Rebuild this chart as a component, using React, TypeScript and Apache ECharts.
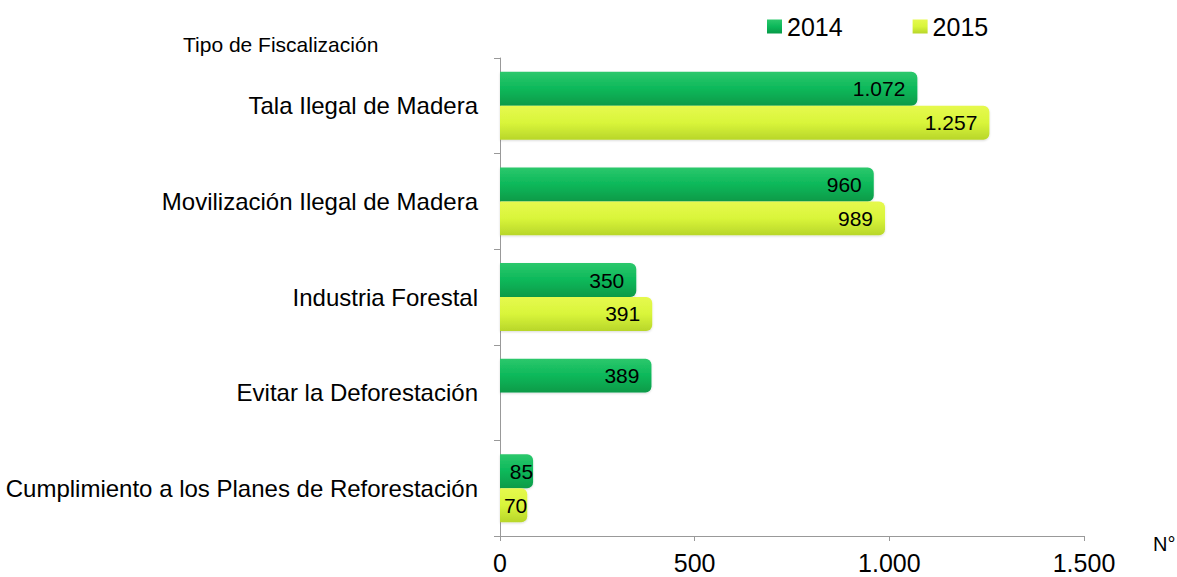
import React, { useEffect, useRef } from "react";
import * as echarts from "echarts";

const categories = [
  "Tala Ilegal de Madera",
  "Movilización Ilegal de Madera",
  "Industria Forestal",
  "Evitar la Deforestación",
  "Cumplimiento a los Planes de Reforestación",
];
const values2014 = [1072, 960, 350, 389, 85];
const values2015: (number | null)[] = [1257, 989, 391, null, 70];
const seriesNames = ["2014", "2015"];

const FONT = "Liberation Sans, Arial, sans-serif";

const fmt = (v: number) => {
  const s = String(Math.round(v));
  return s.replace(/\B(?=(\d{3})+(?!\d))/g, ".");
};

const withLabelPad = (arr: (number | null)[]) =>
  arr.map((v) =>
    v == null ? null : { value: v, label: { distance: v < 200 ? 0 : 12 } }
  );

export default function App() {
  const ref = useRef<HTMLDivElement>(null);
  useEffect(() => {
    const chart = echarts.init(ref.current!, null, { renderer: "svg" });
    const green = new echarts.graphic.LinearGradient(0, 0, 0, 1, [
      { offset: 0, color: "#2cc86c" },
      { offset: 0.5, color: "#0cb85a" },
      { offset: 1, color: "#079a48" },
    ]);
    const yellow = new echarts.graphic.LinearGradient(0, 0, 0, 1, [
      { offset: 0, color: "#e6f94e" },
      { offset: 0.5, color: "#d9f53a" },
      { offset: 1, color: "#b8d62a" },
    ]);
    const labelCfg = {
      show: true,
      position: "insideRight",
      fontSize: 21,
      color: "#000",
      distance: 12,
      fontFamily: FONT,
      formatter: (p: any) => fmt(p.value),
    };
    chart.setOption({
      animation: false,
      textStyle: { fontFamily: FONT },
      legend: {
        data: seriesNames,
        top: 9,
        left: 762,
        itemWidth: 15,
        itemHeight: 14,
        itemGap: 70,
        icon: "rect",
        textStyle: { fontSize: 25, color: "#000", fontFamily: FONT },
      },
      grid: { left: 500, top: 58, right: 93, bottom: 41, containLabel: false },
      xAxis: {
        type: "value",
        min: 0,
        max: 1500,
        interval: 500,
        axisLine: { show: true, lineStyle: { color: "#999" } },
        axisTick: { show: true, length: 5, lineStyle: { color: "#999" } },
        splitLine: { show: false },
        axisLabel: {
          fontSize: 25,
          color: "#000",
          margin: 14,
          fontFamily: FONT,
          formatter: (v: number) => fmt(v),
        },
      },
      yAxis: {
        type: "category",
        data: categories,
        inverse: true,
        axisLine: { show: true, lineStyle: { color: "#999" } },
        axisTick: { show: true, length: 6, lineStyle: { color: "#999" } },
        axisLabel: { fontSize: 24, color: "#000", margin: 22, fontFamily: FONT },
      },
      graphic: [
        {
          type: "text",
          left: 183,
          top: 34,
          style: { text: "Tipo de Fiscalización", fontSize: 21, fill: "#000", fontFamily: FONT },
        },
        {
          type: "text",
          left: 1153,
          top: 534,
          style: { text: "N°", fontSize: 20, fill: "#000", fontFamily: FONT },
        },
      ],
      series: [
        {
          name: seriesNames[0],
          type: "bar",
          data: withLabelPad(values2014),
          barCategoryGap: "29%",
          barGap: "0%",
          itemStyle: { color: green, borderRadius: [0, 6, 6, 0], shadowColor: "rgba(0,0,0,0.15)", shadowBlur: 2, shadowOffsetY: 1 },
          label: labelCfg,
        },
        {
          name: seriesNames[1],
          type: "bar",
          data: withLabelPad(values2015),
          barCategoryGap: "29%",
          barGap: "0%",
          itemStyle: { color: yellow, borderRadius: [0, 6, 6, 0], shadowColor: "rgba(0,0,0,0.15)", shadowBlur: 2, shadowOffsetY: 1 },
          label: labelCfg,
        },
      ],
    });
    return () => chart.dispose();
  }, []);
  return <div ref={ref} style={{ width: 1177, height: 577, position: "absolute", left: 0, top: 0 }} />;
}
